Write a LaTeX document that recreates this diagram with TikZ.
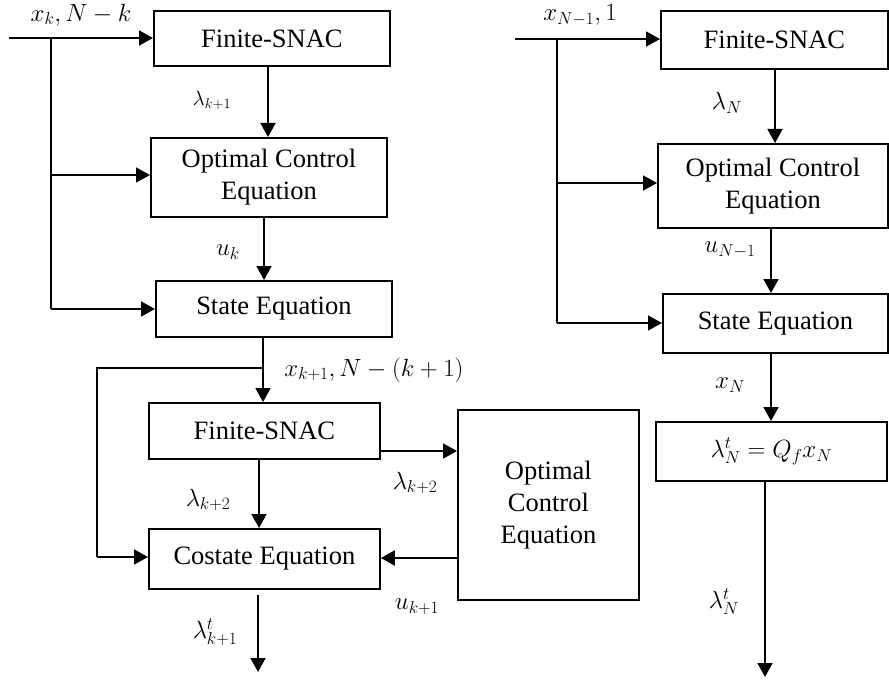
\documentclass[tikz,border=0pt]{standalone}
\usepackage{fontspec}
\setmainfont{Liberation Serif}
\usetikzlibrary{arrows.meta}
\begin{document}
\begin{tikzpicture}[x=1pt,y=-1pt,
  box/.style={draw, line width=1.8pt, inner sep=0pt, align=center, anchor=north west,
    font=\fontsize{26.5}{32}\selectfont},
  lbl/.style={inner sep=0pt, font=\fontsize{26}{32}\selectfont},
  slbl/.style={inner sep=0pt, font=\fontsize{21}{26}\selectfont},
  line/.style={line width=1.8pt},
  arr/.style={line width=1.8pt, -{Triangle[length=14pt,width=15pt]}}]
\useasboundingbox (0,0) rectangle (889,682);
% ---- left column boxes
\node[box, minimum width=236pt, minimum height=55pt] (L1) at (153,10) {Finite-SNAC};
\node[box, minimum width=236pt, minimum height=79pt] (L2) at (150,137) {Optimal Control\\Equation};
\node[box, minimum width=236pt, minimum height=56pt] (L3) at (155,280) {State Equation};
\node[box, minimum width=231pt, minimum height=56pt] (L4) at (148,402) {Finite-SNAC};
\node[box, minimum width=231pt, minimum height=60pt] (L5) at (148,528) {Costate Equation};
\node[box, minimum width=181pt, minimum height=190pt] (L6) at (457,409) {Optimal\\Control\\Equation};
% ---- right column boxes
\node[box, minimum width=227pt, minimum height=58pt] (R1) at (660,10) {Finite-SNAC};
\node[box, minimum width=230pt, minimum height=84pt] (R2) at (657,143) {Optimal Control\\Equation};
\node[box, minimum width=225pt, minimum height=59pt] (R3) at (662,293) {State Equation};
\node[box, minimum width=231pt, minimum height=59pt] (R4) at (655,421) {$\lambda^t_N = Q_f x_N$};
% ---- helper coordinates
\coordinate (inL) at (9,38);
\coordinate (jL1) at (51,38);
\coordinate (jL2) at (51,175);
\coordinate (jL3) at (51,309);
\coordinate (xa) at (268,0);
\coordinate (xb) at (264,0);
\coordinate (xc) at (263,0);
\coordinate (jB) at (263,368);
\coordinate (jB2) at (97,368);
\coordinate (jB3) at (97,557);
\coordinate (xd) at (259,0);
\coordinate (yc) at (0,451);
\coordinate (yd) at (0,558);
\coordinate (o1) at (258,672);
\coordinate (inR) at (515,39);
\coordinate (jR1) at (557,39);
\coordinate (jR2) at (557,183);
\coordinate (jR3) at (557,323);
\coordinate (xe) at (775,0);
\coordinate (xf) at (771,0);
\coordinate (o2) at (765,677);
% ---- left connectors
\draw[arr] (inL) -- (inL -| L1.west);
\draw[line] (jL1) -- (jL3);
\draw[arr] (jL2) -- (jL2 -| L2.west);
\draw[arr] (jL3) -- (jL3 -| L3.west);
\draw[arr] (L1.south -| xa) -- (L2.north -| xa);
\draw[arr] (L2.south -| xb) -- (L3.north -| xb);
\draw[arr] (L3.south -| xc) -- (L4.north -| xc);
\draw[line] (jB) -- (jB2) -- (jB3);
\draw[arr] (jB3) -- (jB3 -| L5.west);
\draw[arr] (L4.south -| xd) -- (L5.north -| xd);
\draw[arr] (L4.east |- yc) -- (L6.west |- yc);
\draw[arr] (L6.west |- yd) -- (L5.east |- yd);
\draw[arr] ([yshift=-5pt]L5.south -| o1) -- (o1);
% ---- right connectors
\draw[arr] (inR) -- (inR -| R1.west);
\draw[line] (jR1) -- (jR3);
\draw[arr] (jR2) -- (jR2 -| R2.west);
\draw[arr] (jR3) -- (jR3 -| R3.west);
\draw[arr] (R1.south -| xe) -- (R2.north -| xe);
\draw[arr] (R2.south -| xf) -- (R3.north -| xf);
\draw[arr] (R3.south -| xf) -- (R4.north -| xf);
\draw[arr] (R4.south -| o2) -- (o2);
% ---- labels
\node[lbl] (t1) at (81,15) {$x_k, N-k$};
\node[slbl] (t2) at (212,100) {$\lambda_{k+1}$};
\node[lbl] (t3) at (228,252) {$u_k$};
\node[lbl] (t4) at (374,370) {$x_{k+1}, N-(k+1)$};
\node[lbl] (t5) at (208,500) {$\lambda_{k+2}$};
\node[lbl] (t6) at (415,483) {$\lambda_{k+2}$};
\node[lbl] (t7) at (417,607) {$u_{k+1}$};
\node[lbl] (t8) at (215,632) {$\lambda^t_{k+1}$};
\node[lbl] (t9) at (580,15) {$x_{N-1}, 1$};
\node[lbl] (t10) at (727,103) {$\lambda_N$};
\node[lbl] (t11) at (730,250) {$u_{N-1}$};
\node[lbl] (t12) at (730,385) {$x_N$};
\node[lbl] (t13) at (724,602) {$\lambda^t_N$};
\end{tikzpicture}
\end{document}
